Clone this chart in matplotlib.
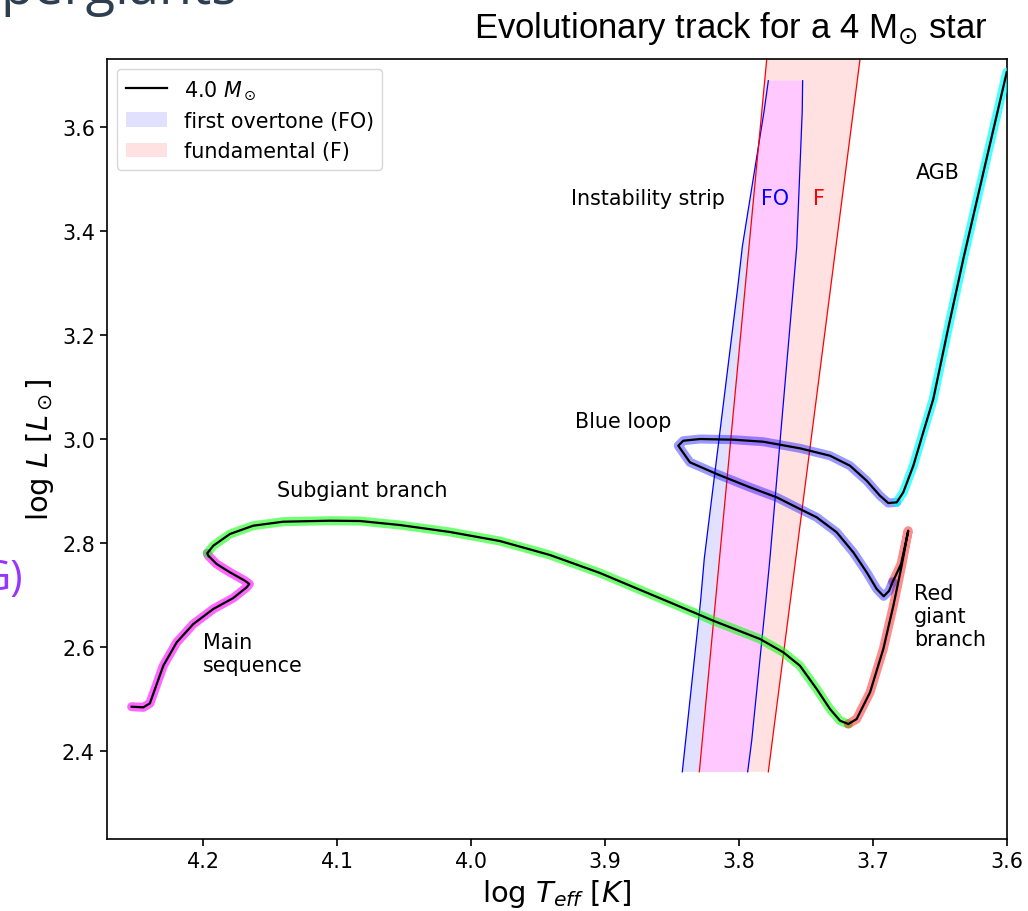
import numpy as np
import matplotlib
matplotlib.use("Agg")
import matplotlib.pyplot as plt
from matplotlib.lines import Line2D
from matplotlib.patches import Patch, Polygon

# ---- evolutionary track of a 4 Msun star (log Teff, log L) by phase ----
ms_logT = [4.2532, 4.2445, 4.2396, 4.2358, 4.2296, 4.2196, 4.2072, 4.1923,
           4.1774, 4.1674, 4.1654, 4.1687, 4.1799, 4.1898, 4.1960, 4.1968]
ms_logL = [2.4852, 2.4840, 2.4917, 2.5192, 2.5640, 2.6090, 2.6442, 2.6731,
           2.6942, 2.7148, 2.7212, 2.7275, 2.7437, 2.7596, 2.7756, 2.7802]

sgb_logT = [4.1968, 4.1923, 4.1799, 4.1625, 4.1401, 4.1052, 4.0828, 4.0530,
            4.0157, 3.9784, 3.9410, 3.9037, 3.8664, 3.8291, 3.8192, 3.7843,
            3.7669, 3.7545, 3.7420, 3.7321, 3.7246, 3.7184]
sgb_logL = [2.7802, 2.7948, 2.8173, 2.8333, 2.8410, 2.8429, 2.8423, 2.8346,
            2.8212, 2.8038, 2.7769, 2.7423, 2.7019, 2.6615, 2.6506, 2.6154,
            2.5898, 2.5640, 2.5192, 2.4808, 2.4583, 2.4519]

rgb_logT = [3.7184, 3.7122, 3.7022, 3.6923, 3.6848, 3.6786, 3.6737,
            3.6790, 3.6835, 3.6853]
rgb_logL = [2.4519, 2.4615, 2.5129, 2.5962, 2.6794, 2.7564, 2.8237,
            2.7600, 2.7350, 2.7256]

loop_logT = [3.6853, 3.6880, 3.6920, 3.6972, 3.7047, 3.7147, 3.7271, 3.7420,
             3.7545, 3.7719, 3.7918, 3.8166, 3.8366, 3.8453, 3.8416, 3.8291,
             3.8042, 3.7819, 3.7545, 3.7321, 3.7172, 3.7047, 3.6948, 3.6886,
             3.6823]
loop_logL = [2.7256, 2.7080, 2.6975, 2.7115, 2.7437, 2.7821, 2.8206, 2.8494,
             2.8654, 2.8879, 2.9071, 2.9327, 2.9552, 2.9871, 2.9967, 3.0000,
             2.9987, 2.9948, 2.9821, 2.9679, 2.9487, 2.9198, 2.8910, 2.8769,
             2.8782]

agb_logT = [3.6823, 3.6774, 3.6699, 3.6625, 3.6550, 3.6440, 3.6326, 3.6179,
            3.6002]
agb_logL = [2.8782, 2.8975, 2.9487, 3.0129, 3.0769, 3.2115, 3.3462, 3.5096,
            3.7052]

# ---- instability strip edges ----
fo_logL = [2.36, 2.42, 2.69, 2.77, 3.29, 3.37, 3.63, 3.689]
fo_blue_edge = [3.8423, 3.8398, 3.8286, 3.8259, 3.8010, 3.7975, 3.7813, 3.7781]
fo_red_edge = [3.7935, 3.7905, 3.7799, 3.7769, 3.7595, 3.7569, 3.7528, 3.7525]

f_logL = [2.36, 3.76]
f_blue_edge = [3.8296, 3.7782]
f_red_edge = [3.7781, 3.7082]

# ---- labels ----
phase_labels = ["Main\nsequence", "Subgiant branch", "Blue loop",
                "Instability strip", "AGB", "Red\ngiant\nbranch"]
phase_label_pos = [(4.2, 2.587), (4.1448, 2.902), (3.9224, 3.0346),
                   (3.9254, 3.4635), (3.6679, 3.5135), (3.6694, 2.6596)]

FS = 14.9

fig = plt.figure(figsize=(10.28, 9.12), dpi=100)
ax = fig.add_axes([107 / 1028, 72 / 912, 900 / 1028, 780 / 912])

# instability strip: fundamental, first overtone, and their overlap
f_poly = np.column_stack([f_blue_edge + f_red_edge[::-1], f_logL + f_logL[::-1]])
fo_poly = np.column_stack([fo_blue_edge + fo_red_edge[::-1], fo_logL + fo_logL[::-1]])

f_patch = Polygon(f_poly, closed=True, facecolor="#ffe1e1", edgecolor="none", zorder=1)
fo_patch = Polygon(fo_poly, closed=True, facecolor="#e1e1ff", edgecolor="none", zorder=1.1)
ax.add_patch(f_patch)
ax.add_patch(fo_patch)
both_patch = Polygon(fo_poly, closed=True, facecolor="#ffc9ff", edgecolor="none", zorder=1.2)
ax.add_patch(both_patch)
both_patch.set_clip_path(f_patch)

ax.plot(fo_blue_edge, fo_logL, color="blue", lw=0.9, zorder=2)
ax.plot(fo_red_edge, fo_logL, color="blue", lw=0.9, zorder=2)
ax.plot(f_blue_edge, f_logL, color="red", lw=0.9, zorder=2)
ax.plot(f_red_edge, f_logL, color="red", lw=0.9, zorder=2)

# phase highlights
hl = 6.5
style = dict(lw=hl, zorder=3, solid_capstyle="round", solid_joinstyle="round")
ax.plot(ms_logT, ms_logL, color="magenta", alpha=0.6, **style)
ax.plot(sgb_logT, sgb_logL, color="lime", alpha=0.55, **style)
ax.plot(rgb_logT, rgb_logL, color="red", alpha=0.45, **style)
ax.plot(loop_logT, loop_logL, color="blue", alpha=0.4, **style)
ax.plot(agb_logT, agb_logL, color="cyan", alpha=0.7, **style)

# full track
track_T = ms_logT + sgb_logT[1:] + rgb_logT[1:] + loop_logT[1:] + agb_logT[1:]
track_L = ms_logL + sgb_logL[1:] + rgb_logL[1:] + loop_logL[1:] + agb_logL[1:]
ax.plot(track_T, track_L, color="black", lw=1.6, zorder=4, solid_joinstyle="round")

for txt, (x, y) in zip(phase_labels, phase_label_pos):
    ax.text(x, y, txt, fontsize=FS, ha="left", va="center", zorder=5)
ax.text(3.7836, 3.4635, "FO", color="blue", fontsize=FS, ha="left", va="center")
ax.text(3.7448, 3.4635, "F", color="red", fontsize=FS, ha="left", va="center")

ax.set_xlim(4.2716, 3.6)
ax.set_ylim(2.2308, 3.7308)
ax.set_xticks([4.2, 4.1, 4.0, 3.9, 3.8, 3.7, 3.6])
ax.set_yticks([2.4, 2.6, 2.8, 3.0, 3.2, 3.4, 3.6])
ax.tick_params(labelsize=FS, length=5.2, width=1.2)
for sp in ax.spines.values():
    sp.set_linewidth(1.2)
ax.set_xlabel(r"log $T_{eff}$ [$K$]", fontsize=20.9)
ax.set_ylabel(r"log $L$ [$L_\odot$]", fontsize=20.9)

handles = [Line2D([], [], color="black", lw=1.6),
           Patch(facecolor="#e1e1ff", edgecolor="none"),
           Patch(facecolor="#ffe1e1", edgecolor="none")]
ax.legend(handles, [r"4.0 $M_\odot$", "first overtone (FO)", "fundamental (F)"],
          loc="upper left", fontsize=FS)

# surrounding slide text
fig.text(731 / 1028, 1 - 38 / 912, r"Evolutionary track for a 4 M$_{\odot}$ star",
         fontsize=25, family="Liberation Sans", ha="center", va="baseline")
fig.text(0.0, 1 - 4 / 912, "pergiants", fontsize=39, family="Open Sans",
         color="#2c3e50", ha="left", va="baseline")
fig.text(23 / 1028, 1 - 590 / 912, "G)", fontsize=30, family="Open Sans",
         color="#9933ff", ha="right", va="baseline")

fig.savefig("out.png", dpi=100)
